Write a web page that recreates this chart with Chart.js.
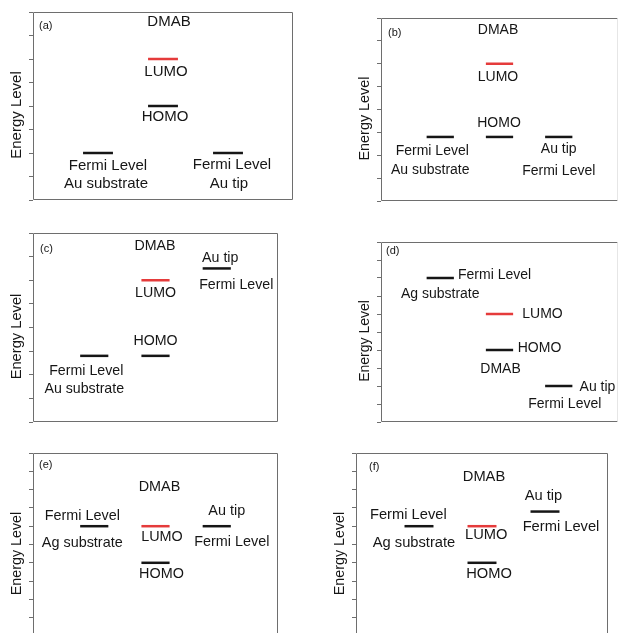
<!DOCTYPE html>
<html>
<head>
<meta charset="utf-8">
<script src="https://cdn.jsdelivr.net/npm/chart.js@4/dist/chart.umd.min.js"></script>
<style>
  html, body { margin: 0; padding: 0; background: #fff; width: 619px; height: 633px; overflow: hidden; }
  canvas { position: absolute; }
</style>
</head>
<body>
<script>
// ---- energy-level data for the six panels ----
const panelTags      = ['(a)', '(b)', '(c)', '(d)', '(e)', '(f)'];
const columnX        = { sub: 1, lumo: 2, homo: 2, tip: 3 };   // substrate | DMAB | tip
const substrateFermi = [2, 2.8, 2.8, 8, 6, 6];
const lumoLevel      = [6, 6, 6, 6, 6, 6];
const homoLevel      = [4, 2.8, 2.8, 4, 4, 4];
const tipFermi       = [2, 2.8, 6.5, 2, 6, 6.8];
const energyMax      = [8, 8, 8, 10, 10, 10];

// ---- text beside each level: [text, level, dx px, dy px] ----
const panelLabels = [
  [['DMAB','lumo',6,-37], ['LUMO','lumo',3,13], ['HOMO','homo',2,11],
   ['Fermi Level','sub',10,12.5], ['Au substrate','sub',8,30.5],
   ['Fermi Level','tip',4,12], ['Au tip','tip',1,31]],
  [['DMAB','lumo',-1.5,-34], ['LUMO','lumo',-1.5,13.5], ['HOMO','homo',-0.5,-14],
   ['Fermi Level','sub',-8,14.6], ['Au substrate','sub',-10,32.8],
   ['Au tip','tip',0,12.5], ['Fermi Level','tip',0,34]],
  [['DMAB','lumo',-0.5,-34], ['LUMO','lumo',0,13], ['HOMO','homo',0,-15],
   ['Fermi Level','sub',-8,15], ['Au substrate','sub',-10,33],
   ['Au tip','tip',3.5,-10.5], ['Fermi Level','tip',19.5,16.5]],
  [['Fermi Level','sub',54.3,-2.5], ['Ag substrate','sub',0,16],
   ['LUMO','lumo',43,0], ['HOMO','homo',40,-2], ['DMAB','homo',1,19],
   ['Au tip','tip',38.7,1], ['Fermi Level','tip',6,18]],
  [['DMAB','lumo',4,-39], ['Fermi Level','sub',-12,-10], ['Ag substrate','sub',-12,17],
   ['LUMO','lumo',6.5,10.7], ['HOMO','homo',6,11],
   ['Au tip','tip',10,-15.6], ['Fermi Level','tip',15,15.7]],
  [['DMAB','lumo',2,-49], ['Fermi Level','sub',-10.7,-11], ['Ag substrate','sub',-5,17],
   ['LUMO','lumo',4.3,8.7], ['HOMO','homo',7,11],
   ['Au tip','tip',-1.5,-15.5], ['Fermi Level','tip',16,15]]
];

// ---- page layout: canvas rect, plot-frame rect (page px), text sizes ----
const frames = [
  { canvas: [0, 0, 310, 215],     box: [33, 12, 293, 200],   tag: [6, 14],   font: 15,   titleFont: 15,   faintRight: false },
  { canvas: [310, 0, 309, 215],   box: [381, 18, 618, 201],  tag: [7, 15],   font: 14,   titleFont: 14.4, faintRight: true },
  { canvas: [0, 215, 310, 215],   box: [33, 233, 278, 422],  tag: [7, 16],   font: 14.2, titleFont: 14.7, faintRight: false },
  { canvas: [310, 215, 309, 215], box: [381, 242, 618, 422], tag: [5, 8.5],  font: 14,   titleFont: 14,   faintRight: true },
  { canvas: [0, 430, 310, 210],   box: [33, 453, 278, 636],  tag: [6, 12],   font: 14.4, titleFont: 14.3, faintRight: false },
  { canvas: [310, 430, 309, 210], box: [356, 453, 608, 636], tag: [13, 14],  font: 14.7, titleFont: 14.3, faintRight: false }
];

const LEVEL_HALF_WIDTH = 0.23;
const BLACK = '#161616';
const RED = '#e53b3b';
const FRAME = '#6e6e6e';
const FONT = '"Liberation Sans", Arial, sans-serif';

// frame, labels, panel tag and axis title
const levelArt = {
  id: 'levelArt',
  afterDatasetsDraw(chart, args, opts) {
    const { ctx, chartArea: a, scales: { x, y } } = chart;
    ctx.save();
    const L = Math.round(a.left) + 0.5, T = Math.round(a.top) + 0.5;
    const R = Math.round(a.right) - 0.5, B = Math.round(a.bottom) - 0.5;
    ctx.lineWidth = 1;
    ctx.strokeStyle = FRAME;
    ctx.beginPath();
    ctx.moveTo(R, T); ctx.lineTo(L, T); ctx.lineTo(L, B); ctx.lineTo(R, B);
    ctx.stroke();
    ctx.strokeStyle = opts.faintRight ? '#e6e6e6' : FRAME;
    ctx.beginPath(); ctx.moveTo(R, T); ctx.lineTo(R, B); ctx.stroke();

    ctx.fillStyle = BLACK;
    ctx.textAlign = 'center';
    ctx.textBaseline = 'middle';
    ctx.font = opts.font + 'px ' + FONT;
    for (const [text, key, dx, dy] of opts.labels) {
      const px = x.getPixelForValue(columnX[key]);
      const py = y.getPixelForValue(opts.levels[key]);
      ctx.fillText(text, px + dx, py + dy);
    }

    ctx.textAlign = 'left';
    ctx.font = '11px ' + FONT;
    ctx.fillText(opts.tag, a.left + opts.tagPos[0], a.top + opts.tagPos[1]);

    ctx.font = opts.titleFont + 'px ' + FONT;
    ctx.textAlign = 'center';
    ctx.translate(a.left - 16, (a.top + a.bottom) / 2 + 9);
    ctx.rotate(-Math.PI / 2);
    ctx.fillText('Energy Level', 0, 0);
    ctx.restore();
  }
};

function levelSegment(key, energy, color) {
  const cx = columnX[key];
  return {
    data: [{ x: cx - LEVEL_HALF_WIDTH, y: energy }, { x: cx + LEVEL_HALF_WIDTH, y: energy }],
    showLine: true,
    borderColor: color,
    borderWidth: 2.5,
    borderCapStyle: 'butt',
    pointRadius: 0,
    pointHoverRadius: 0
  };
}

frames.forEach((f, i) => {
  const [cx, cy, cw, ch] = f.canvas;
  const [bl, bt, br, bb] = f.box;
  const canvas = document.createElement('canvas');
  canvas.width = cw; canvas.height = ch;
  canvas.style.left = cx + 'px'; canvas.style.top = cy + 'px';
  canvas.style.width = cw + 'px'; canvas.style.height = ch + 'px';
  document.body.appendChild(canvas);

  const levels = { sub: substrateFermi[i], lumo: lumoLevel[i], homo: homoLevel[i], tip: tipFermi[i] };

  new Chart(canvas, {
    type: 'scatter',
    data: {
      datasets: [
        levelSegment('sub', levels.sub, BLACK),
        levelSegment('lumo', levels.lumo, RED),
        levelSegment('homo', levels.homo, BLACK),
        levelSegment('tip', levels.tip, BLACK)
      ]
    },
    options: {
      responsive: false,
      animation: false,
      devicePixelRatio: 1,
      layout: { padding: { left: 0, top: bt - cy, right: cw - (br - cx), bottom: ch - (bb - cy) } },
      plugins: {
        legend: { display: false },
        tooltip: { enabled: false },
        levelArt: {
          labels: panelLabels[i], levels, tag: panelTags[i], tagPos: f.tag,
          font: f.font, titleFont: f.titleFont, faintRight: f.faintRight
        }
      },
      scales: {
        x: { type: 'linear', min: 0, max: 4, display: false },
        y: {
          type: 'linear', min: 0, max: energyMax[i],
          ticks: { stepSize: 1, display: false },
          grid: { drawOnChartArea: false, drawTicks: true, tickLength: 4, color: FRAME, lineWidth: 1 },
          border: { display: false },
          afterFit(scale) { scale.width = bl - cx; }
        }
      }
    },
    plugins: [levelArt]
  });
});
</script>
</body>
</html>
